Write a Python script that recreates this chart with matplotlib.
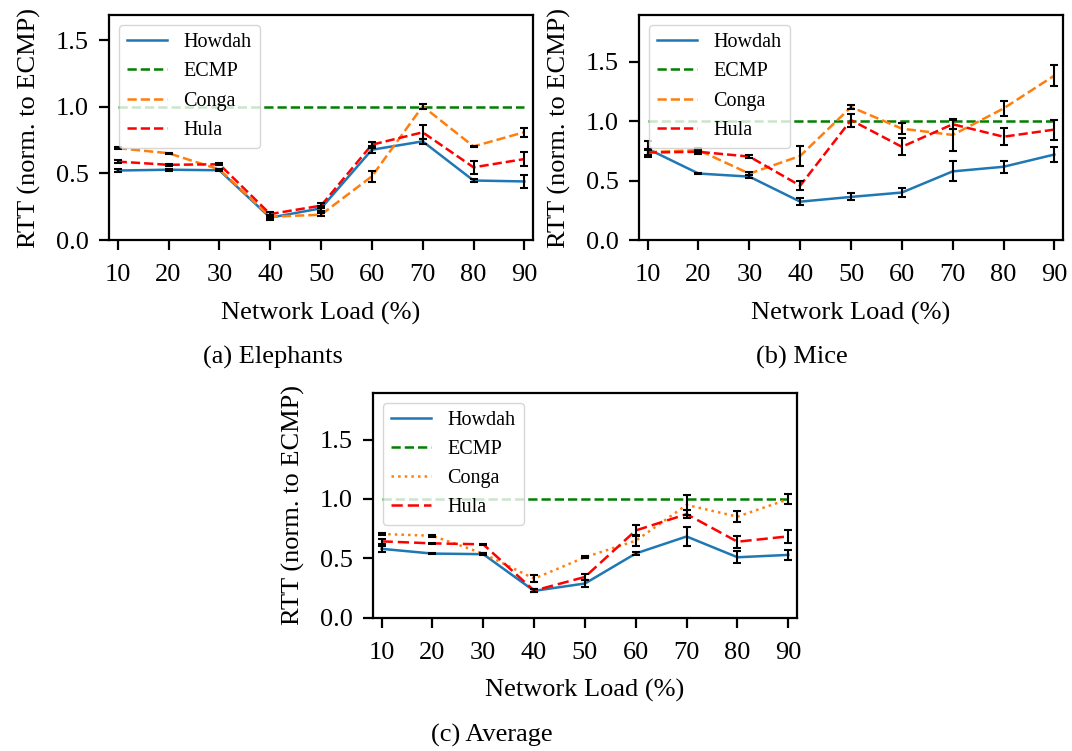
import numpy as np
import matplotlib
matplotlib.use('Agg')
import matplotlib.pyplot as plt

plt.rcParams['font.family'] = ['Liberation Serif', 'DejaVu Serif']
plt.rcParams['font.size'] = 19
plt.rcParams['axes.linewidth'] = 1.6

load = [10, 20, 30, 40, 50, 60, 70, 80, 90]
ecmp = [1.0] * 9

# elephants
howdah_e = [0.522, 0.528, 0.524, 0.168, 0.238, 0.678, 0.741, 0.447, 0.440]
howdah_e_err = [0.008, 0.008, 0.006, 0.015, 0.02, 0.025, 0.018, 0.008, 0.05]
conga_e = [0.690, 0.652, 0.530, 0.175, 0.190, 0.478, 1.005, 0.703, 0.810]
conga_e_err = [0.005, 0.005, 0.005, 0.01, 0.012, 0.04, 0.018, 0.006, 0.035]
hula_e = [0.589, 0.565, 0.569, 0.195, 0.258, 0.716, 0.809, 0.546, 0.608]
hula_e_err = [0.01, 0.008, 0.008, 0.015, 0.02, 0.022, 0.053, 0.047, 0.05]

# mice
howdah_m = [0.768, 0.560, 0.534, 0.323, 0.363, 0.400, 0.578, 0.617, 0.720]
howdah_m_err = [0.07, 0.008, 0.012, 0.03, 0.03, 0.04, 0.084, 0.05, 0.062]
conga_m = [0.740, 0.757, 0.559, 0.708, 1.120, 0.938, 0.885, 1.108, 1.385]
conga_m_err = [0.03, 0.015, 0.012, 0.081, 0.02, 0.045, 0.134, 0.067, 0.085]
hula_m = [0.737, 0.743, 0.703, 0.458, 1.010, 0.785, 0.975, 0.870, 0.930]
hula_m_err = [0.025, 0.015, 0.01, 0.04, 0.055, 0.072, 0.04, 0.071, 0.085]

# average
howdah_a = [0.580, 0.540, 0.535, 0.226, 0.288, 0.541, 0.684, 0.509, 0.529]
howdah_a_err = [0.025, 0.006, 0.006, 0.012, 0.03, 0.012, 0.079, 0.05, 0.045]
conga_a = [0.705, 0.690, 0.540, 0.329, 0.509, 0.648, 0.950, 0.851, 0.998]
conga_a_err = [0.008, 0.008, 0.006, 0.03, 0.01, 0.04, 0.084, 0.045, 0.044]
hula_a = [0.643, 0.626, 0.618, 0.228, 0.343, 0.735, 0.872, 0.640, 0.685]
hula_a_err = [0.02, 0.006, 0.006, 0.012, 0.025, 0.042, 0.035, 0.052, 0.053]


def draw(ax, howdah, howdah_err, conga, conga_err, hula, hula_err, top,
         conga_ls='--', hula_dash=None):
    ax.plot(load, howdah, color='C0', lw=1.8, label='Howdah')
    ax.plot(load, ecmp, color='g', ls='--', lw=1.8, label='ECMP')
    ax.plot(load, conga, color='C1', ls=conga_ls, lw=1.8, label='Conga')
    l, = ax.plot(load, hula, color='r', ls='--', lw=1.8, label='Hula')
    if hula_dash:
        l.set_dashes(hula_dash)
    # error bars on top of the lines
    for y, e in [(howdah, howdah_err), (conga, conga_err), (hula, hula_err)]:
        ax.errorbar(load, y, yerr=e, fmt='none', ecolor='k', elinewidth=1.5,
                    capsize=3, capthick=1.5, zorder=3)
    ax.set_xlim(8.3, 91.7)
    ax.set_ylim(0, top)
    ax.set_xticks(load)
    ax.set_yticks([0, 0.5, 1.0, 1.5])
    ax.tick_params(length=7.5, width=1.6)
    ax.tick_params(axis='x', pad=10)
    ax.tick_params(axis='y', pad=7)
    ax.set_xlabel('Network Load (%)', labelpad=11)
    ax.set_ylabel('RTT (norm. to ECMP)', labelpad=11)
    ax.legend(loc='upper left', fontsize=14.5)


fig = plt.figure(figsize=(10.72, 7.51), dpi=100)
ax1 = fig.add_axes([0.1017, 0.6804, 0.3955, 0.2996])
ax2 = fig.add_axes([0.5961, 0.6804, 0.3955, 0.2996])
ax3 = fig.add_axes([0.3479, 0.1775, 0.3955, 0.2996])

draw(ax1, howdah_e, howdah_e_err, conga_e, conga_e_err, hula_e, hula_e_err, 1.69)
draw(ax2, howdah_m, howdah_m_err, conga_m, conga_m_err, hula_m, hula_m_err, 1.895)
draw(ax3, howdah_a, howdah_a_err, conga_a, conga_a_err, hula_a, hula_a_err, 1.895,
     conga_ls=':', hula_dash=(4.5, 2))

fig.text(273 / 1072, 1 - 357 / 751, '(a) Elephants', ha='center', va='center')
fig.text(802 / 1072, 1 - 357 / 751, '(b) Mice', ha='center', va='center')
fig.text(492 / 1072, 1 - 735 / 751, '(c) Average', ha='center', va='center')

fig.savefig('out.png', dpi=100)
